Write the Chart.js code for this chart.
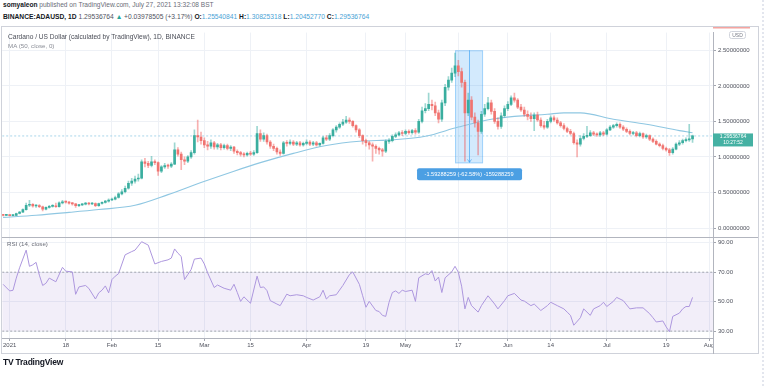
<!DOCTYPE html>
<html>
<head>
<meta charset="utf-8">
<script src="https://cdn.jsdelivr.net/npm/chart.js@4.4.0/dist/chart.umd.min.js"></script>
<style>
  body { margin: 0; width: 768px; height: 386px; background: #fff; position: relative; overflow: hidden;
         font-family: "Liberation Sans", Arial, sans-serif; }
  .txt { position: absolute; white-space: nowrap; line-height: 8px; }
  #h1 { left: 3px; top: 1px; font-size: 6.6px; color: #6a6d78; }
  #h2 { left: 3px; top: 13px; font-size: 6.7px; color: #50535e; }
  #h2 b, #h1 b { color: #131722; }
  .v { color: #4aa3d6; }
  .g { color: #26a69a; }
  #frame { position: absolute; left: 1px; top: 26px; width: 756px; height: 326px; border: 1px solid #cfd2da; }
  #edge { position: absolute; left: 762px; top: 0; width: 0; height: 386px; border-left: 2px dotted #e3e6ee; }
  canvas { position: absolute; left: 2px; top: 27px; }
  #title { left: 8px; top: 33px; font-size: 6.6px; color: #4a4d57; }
  #malab { left: 8px; top: 42px; font-size: 6.2px; color: #8a8d96; }
  #rsilab { left: 7px; top: 240px; font-size: 6.2px; color: #6a6d78; }
  #logo { left: 3px; top: 358px; font-size: 8.5px; font-weight: bold; color: #131722; letter-spacing: -0.2px; }
  #logo i { font-style: normal; display: inline-block; margin-right: 2px; }
</style>
</head>
<body>
<div id="h1" class="txt"><b>somyaleon</b> published on TradingView.com, July 27, 2021 13:32:08 BST</div>
<div id="h2" class="txt"><b>BINANCE:ADAUSD, 1D</b> 1.29536764 <span class="g">&#9650;</span> +0.03978505 (+3.17%) <b>O:</b><span class="v">1.25540841</span> <b>H:</b><span class="v">1.30825318</span> <b>L:</b><span class="v">1.20452770</span> <b>C:</b><span class="v">1.29536764</span></div>
<div id="frame"></div>
<div id="edge"></div>
<canvas id="chart" width="756" height="327"></canvas>
<div id="title" class="txt">Cardano / US Dollar (calculated by TradingView), 1D, BINANCE</div>
<div id="malab" class="txt">MA (50, close, 0)</div>
<div id="rsilab" class="txt">RSI (14, close)</div>
<div id="logo" class="txt"><i>TV</i>TradingView</div>
<script>
// daily candles, first one is Dec 30 2020 (day -2), day 0 = Jan 1 2021
const firstDay = -2;
const opens = [
  0.182, 0.178, 0.181, 0.175, 0.177, 0.204, 0.224, 0.258, 0.320, 0.332,
  0.310, 0.315, 0.300, 0.265, 0.290, 0.305, 0.310, 0.300, 0.355, 0.370,
  0.365, 0.350, 0.340, 0.315, 0.325, 0.335, 0.350, 0.338, 0.345, 0.315,
  0.345, 0.360, 0.378, 0.395, 0.405, 0.430, 0.480, 0.510, 0.560, 0.630,
  0.660, 0.690, 0.700, 0.930, 0.910, 0.880, 0.930, 0.920, 0.800, 0.860,
  0.880, 0.870, 0.900, 1.100, 1.040, 0.960, 0.940, 1.000, 1.060, 1.300,
  1.280, 1.230, 1.170, 1.150, 1.200, 1.140, 1.170, 1.130, 1.160, 1.120,
  1.140, 1.080, 1.060, 1.040, 1.030, 1.050, 1.040, 1.060, 1.330, 1.250,
  1.300, 1.210, 1.150, 1.120, 1.070, 1.050, 1.200, 1.190, 1.210, 1.180,
  1.200, 1.170, 1.190, 1.210, 1.180, 1.200, 1.170, 1.190, 1.270, 1.250,
  1.300, 1.380, 1.420, 1.460, 1.490, 1.520, 1.500, 1.440, 1.380, 1.300,
  1.230, 1.200, 1.170, 1.150, 1.120, 1.100, 1.080, 1.220, 1.230, 1.290,
  1.310, 1.340, 1.330, 1.360, 1.340, 1.370, 1.350, 1.500, 1.650, 1.680,
  1.740, 1.720, 1.620, 1.530, 1.760, 1.980, 2.080, 2.180, 2.280, 2.200,
  2.050, 1.620, 1.800, 1.560, 1.480, 1.360, 1.600, 1.680, 1.760, 1.640,
  1.500, 1.430, 1.580, 1.680, 1.740, 1.830, 1.800, 1.700, 1.660, 1.600,
  1.570, 1.540, 1.590, 1.520, 1.440, 1.420, 1.500, 1.550, 1.520, 1.480,
  1.440, 1.400, 1.360, 1.330, 1.200, 1.180, 1.260, 1.290, 1.300, 1.340,
  1.320, 1.310, 1.340, 1.320, 1.380, 1.420, 1.440, 1.460, 1.420, 1.390,
  1.360, 1.330, 1.340, 1.300, 1.330, 1.280, 1.300, 1.250, 1.220, 1.180,
  1.160, 1.120, 1.100, 1.060, 1.110, 1.180, 1.200, 1.230, 1.240, 1.255
];
const highs = [
  0.190, 0.185, 0.186, 0.185, 0.210, 0.235, 0.270, 0.350, 0.390, 0.345,
  0.330, 0.330, 0.310, 0.300, 0.320, 0.330, 0.350, 0.370, 0.390, 0.380,
  0.375, 0.360, 0.345, 0.335, 0.345, 0.360, 0.360, 0.360, 0.355, 0.350,
  0.370, 0.390, 0.410, 0.420, 0.450, 0.500, 0.540, 0.590, 0.660, 0.700,
  0.730, 0.760, 0.960, 0.980, 0.940, 1.010, 0.960, 0.930, 0.880, 0.910,
  0.900, 0.920, 1.200, 1.130, 1.070, 1.000, 1.020, 1.090, 1.380, 1.520,
  1.350, 1.270, 1.220, 1.240, 1.220, 1.190, 1.190, 1.180, 1.180, 1.160,
  1.150, 1.100, 1.080, 1.060, 1.070, 1.080, 1.090, 1.430, 1.380, 1.340,
  1.320, 1.230, 1.180, 1.140, 1.100, 1.220, 1.230, 1.240, 1.230, 1.220,
  1.220, 1.210, 1.240, 1.230, 1.220, 1.220, 1.200, 1.290, 1.300, 1.330,
  1.400, 1.440, 1.480, 1.530, 1.570, 1.550, 1.510, 1.450, 1.400, 1.310,
  1.250, 1.220, 1.200, 1.170, 1.140, 1.120, 1.240, 1.260, 1.310, 1.340,
  1.360, 1.370, 1.380, 1.380, 1.390, 1.400, 1.530, 1.700, 1.750, 1.900,
  1.800, 1.770, 1.660, 1.800, 2.020, 2.130, 2.250, 2.460, 2.360, 2.250,
  2.080, 1.900, 1.850, 1.620, 1.520, 1.640, 1.740, 1.840, 1.800, 1.680,
  1.550, 1.620, 1.720, 1.780, 1.860, 1.900, 1.820, 1.740, 1.700, 1.650,
  1.620, 1.620, 1.630, 1.550, 1.500, 1.530, 1.580, 1.580, 1.550, 1.500,
  1.470, 1.420, 1.390, 1.350, 1.240, 1.300, 1.330, 1.430, 1.370, 1.360,
  1.340, 1.360, 1.360, 1.400, 1.440, 1.460, 1.480, 1.480, 1.440, 1.410,
  1.380, 1.360, 1.360, 1.350, 1.340, 1.320, 1.310, 1.270, 1.240, 1.200,
  1.180, 1.140, 1.120, 1.130, 1.200, 1.230, 1.250, 1.270, 1.460, 1.308
];
const lows = [
  0.172, 0.174, 0.170, 0.170, 0.175, 0.198, 0.220, 0.250, 0.300, 0.295,
  0.290, 0.285, 0.240, 0.255, 0.280, 0.295, 0.290, 0.295, 0.340, 0.350,
  0.335, 0.320, 0.290, 0.300, 0.315, 0.325, 0.325, 0.330, 0.300, 0.305,
  0.335, 0.350, 0.365, 0.385, 0.395, 0.420, 0.465, 0.495, 0.545, 0.600,
  0.630, 0.660, 0.690, 0.860, 0.850, 0.860, 0.890, 0.740, 0.780, 0.840,
  0.840, 0.850, 0.890, 1.010, 0.820, 0.890, 0.920, 0.980, 1.040, 1.210,
  1.180, 1.130, 1.100, 1.120, 1.110, 1.110, 1.100, 1.110, 1.100, 1.090,
  1.050, 1.030, 1.010, 1.000, 1.010, 1.020, 1.020, 1.050, 1.220, 1.220,
  1.180, 1.120, 1.090, 1.040, 1.020, 1.040, 1.150, 1.170, 1.160, 1.160,
  1.150, 1.150, 1.170, 1.160, 1.160, 1.150, 1.150, 1.180, 1.230, 1.230,
  1.280, 1.350, 1.400, 1.440, 1.470, 1.470, 1.420, 1.350, 1.270, 1.180,
  1.150, 1.110, 0.940, 1.050, 1.040, 1.010, 1.060, 1.190, 1.210, 1.270,
  1.300, 1.300, 1.310, 1.320, 1.320, 1.320, 1.330, 1.480, 1.620, 1.650,
  1.660, 1.580, 1.480, 1.500, 1.720, 1.940, 2.050, 2.130, 2.140, 1.980,
  0.940, 1.580, 1.520, 1.420, 1.030, 1.330, 1.570, 1.660, 1.600, 1.470,
  1.390, 1.400, 1.560, 1.650, 1.720, 1.770, 1.680, 1.640, 1.570, 1.520,
  1.500, 1.370, 1.500, 1.420, 1.390, 1.400, 1.480, 1.500, 1.460, 1.420,
  1.380, 1.340, 1.310, 1.180, 1.000, 1.150, 1.240, 1.270, 1.290, 1.300,
  1.290, 1.290, 1.300, 1.310, 1.370, 1.400, 1.420, 1.400, 1.370, 1.340,
  1.310, 1.310, 1.280, 1.280, 1.260, 1.260, 1.230, 1.200, 1.170, 1.140,
  1.100, 1.080, 1.020, 1.040, 1.100, 1.160, 1.180, 1.210, 1.220, 1.2045
];
const closes = [
  0.178, 0.181, 0.175, 0.177, 0.204, 0.224, 0.258, 0.320, 0.332, 0.310,
  0.315, 0.300, 0.265, 0.290, 0.305, 0.310, 0.300, 0.355, 0.370, 0.365,
  0.350, 0.340, 0.315, 0.325, 0.335, 0.350, 0.338, 0.345, 0.315, 0.345,
  0.360, 0.378, 0.395, 0.405, 0.430, 0.480, 0.510, 0.560, 0.630, 0.660,
  0.690, 0.700, 0.930, 0.910, 0.880, 0.930, 0.920, 0.800, 0.860, 0.880,
  0.870, 0.900, 1.100, 1.040, 0.960, 0.940, 1.000, 1.060, 1.300, 1.280,
  1.230, 1.170, 1.150, 1.200, 1.140, 1.170, 1.130, 1.160, 1.120, 1.140,
  1.080, 1.060, 1.040, 1.030, 1.050, 1.040, 1.060, 1.330, 1.250, 1.300,
  1.210, 1.150, 1.120, 1.070, 1.050, 1.200, 1.190, 1.210, 1.180, 1.200,
  1.170, 1.190, 1.210, 1.180, 1.200, 1.170, 1.190, 1.270, 1.250, 1.300,
  1.380, 1.420, 1.460, 1.490, 1.520, 1.500, 1.440, 1.380, 1.300, 1.230,
  1.200, 1.170, 1.150, 1.120, 1.100, 1.080, 1.220, 1.230, 1.290, 1.310,
  1.340, 1.330, 1.360, 1.340, 1.370, 1.350, 1.500, 1.650, 1.680, 1.740,
  1.720, 1.620, 1.530, 1.760, 1.980, 2.080, 2.180, 2.280, 2.200, 2.050,
  1.620, 1.800, 1.560, 1.480, 1.360, 1.600, 1.680, 1.760, 1.640, 1.500,
  1.430, 1.580, 1.680, 1.740, 1.830, 1.800, 1.700, 1.660, 1.600, 1.570,
  1.540, 1.590, 1.520, 1.440, 1.420, 1.500, 1.550, 1.520, 1.480, 1.440,
  1.400, 1.360, 1.330, 1.200, 1.180, 1.260, 1.290, 1.300, 1.340, 1.320,
  1.310, 1.340, 1.320, 1.380, 1.420, 1.440, 1.460, 1.420, 1.390, 1.360,
  1.330, 1.340, 1.300, 1.330, 1.280, 1.300, 1.250, 1.220, 1.180, 1.160,
  1.120, 1.100, 1.060, 1.110, 1.180, 1.200, 1.230, 1.240, 1.255, 1.29536764
];

// MA(50)
const maDays = [-2, 8, 18, 27, 38, 48, 58, 68, 76, 86, 96, 106, 116, 126, 136, 146, 153, 163, 168, 173, 183, 193, 203, 207];
const maValues = [0.15, 0.18, 0.22, 0.26, 0.32, 0.47, 0.64, 0.80, 0.92, 1.05, 1.16, 1.22, 1.24, 1.29, 1.42, 1.53, 1.57, 1.60, 1.62, 1.62, 1.53, 1.46, 1.37, 1.34];

// RSI(14) turning points
const rsiDays = [
  -2, 0, 1, 2, 3, 5, 6, 7, 8, 9,
  10, 11, 12, 14, 16, 17, 19, 20, 21, 23,
  24, 26, 27, 28, 29, 30, 31, 32, 33, 35,
  37, 38, 40, 42, 44, 46, 48, 49, 50, 51,
  52, 53, 54, 55, 56, 58, 59, 60, 62, 63,
  65, 67, 68, 69, 70, 71, 73, 75, 76, 77,
  78, 79, 81, 82, 84, 85, 87, 89, 90, 92,
  94, 95, 96, 97, 99, 101, 103, 104, 106, 107,
  108, 109, 111, 112, 113, 114, 115, 116, 117, 118,
  119, 120, 122, 123, 124, 126, 127, 128, 129, 130,
  131, 132, 134, 135, 136, 137, 138, 139, 140, 142,
  143, 145, 147, 148, 150, 151, 153, 155, 156, 158,
  159, 161, 163, 164, 166, 168, 169, 170, 171, 173,
  174, 176, 177, 179, 180, 181, 183, 184, 186, 188,
  190, 192, 194, 195, 196, 198, 199, 200, 201, 203,
  204, 205, 206, 207
];
const rsiValues = [
  61.8, 57.3, 57.7, 66, 73, 85, 74, 75, 76.7, 68,
  61, 62.5, 66, 63.5, 73.3, 70.7, 70.2, 55, 60, 61,
  59, 51.8, 56, 57.8, 60.7, 56, 65, 67.3, 69, 81.8,
  84, 85, 90.7, 88.4, 75.6, 77.3, 78.4, 79.6, 85.8, 82.9,
  80.7, 65, 68.4, 71.8, 78.9, 79.6, 75.6, 69.6, 59.6, 61.3,
  59.1, 57.8, 61.8, 56.2, 50.2, 53.3, 48.9, 67.3, 59.6, 60,
  57.5, 50.7, 48.4, 47.3, 55.1, 54, 54.7, 54, 52.9, 51.1,
  53.3, 57.8, 51.8, 54, 54.7, 61, 68.4, 70.2, 61.8, 54,
  46.2, 50.2, 44, 43.3, 40.7, 40, 49.6, 56.2, 57.3, 55.6,
  57.8, 56.9, 57.8, 50.2, 66.2, 68.9, 68.4, 71.1, 64, 66.7,
  56.2, 66.2, 70.2, 74, 70, 60.5, 45.1, 52.9, 47.3, 42.9,
  47.3, 54, 48.4, 45.1, 50.7, 54, 55.6, 51.1, 50.4, 47.3,
  48.4, 44, 47.3, 49.6, 47.3, 45.1, 42.9, 40.7, 34, 39.1,
  45.1, 40.7, 45.1, 47.3, 49.6, 46.7, 50.2, 52.9, 50.7, 45.1,
  45.8, 45.8, 41.8, 39.1, 36.2, 36.9, 32.9, 29.6, 40, 42.2,
  45.1, 46.7, 46.7, 52.9
];
const rsiBand = [30, 70];

// axes
const tickDays = [0, 17, 31, 45, 59, 73, 90, 108, 120, 136, 151, 164, 181, 199, 212];
const tickLabels = ['2021', '18', 'Feb', '15', 'Mar', '15', 'Apr', '19', 'May', '17', 'Jun', '14', 'Jul', '19', 'Aug'];
const priceTicks = [0, 0.5, 1, 1.5, 2, 2.5];
const rsiTicks = [30, 40, 50, 60, 70, 80, 90];
const xRange = [-2.27, 213.2];
const priceRange = [-0.124, 2.749];
const rsiRange = [25.33, 94];

// price-range measure drawn on the chart
const measureDays = [135, 143.5];
const measurePrices = [0.91, 2.5];
const measureText = '-1.59288259 (-62.58%) -159288259';
const lastClose = closes[closes.length - 1];

const upColor = '#3aae9f', downColor = '#f07470';
const upWick = 'rgba(38,166,154,0.45)', downWick = 'rgba(239,83,80,0.45)';
const isUp = i => closes[i] >= opens[i];
const font = { family: '"Liberation Sans", Arial, sans-serif', size: 6 };

const wickData = lows.map((l, i) => ({ x: firstDay + i, y: [l, highs[i]] }));
const bodyData = opens.map((o, i) => ({ x: firstDay + i, y: [o, closes[i]] }));

const paneDecor = {
  id: 'paneDecor',
  beforeDatasetsDraw(chart) {
    const { ctx, scales: { x, y } } = chart;
    const x0 = x.getPixelForValue(measureDays[0]), x1 = x.getPixelForValue(measureDays[1]);
    const yt = y.getPixelForValue(measurePrices[1]), yb = y.getPixelForValue(measurePrices[0]);
    ctx.save();
    ctx.fillStyle = 'rgba(33,150,243,0.2)';
    ctx.fillRect(x0, yt, x1 - x0, yb - yt);
    ctx.strokeStyle = 'rgba(33,150,243,0.3)';
    ctx.lineWidth = 1;
    ctx.strokeRect(x0 + 0.5, yt + 0.5, x1 - x0 - 1, yb - yt - 1);
    const xm = Math.round((x0 + x1) / 2) + 0.5;
    ctx.strokeStyle = 'rgba(33,150,243,0.55)';
    ctx.beginPath(); ctx.moveTo(xm, yt); ctx.lineTo(xm, yb - 1); ctx.stroke();
    ctx.beginPath(); ctx.moveTo(xm - 2, yb - 4); ctx.lineTo(xm, yb - 1); ctx.lineTo(xm + 2, yb - 4); ctx.stroke();
    ctx.restore();
  },
  afterDraw(chart) {
    const { ctx, chartArea, scales: { x, y, rsi } } = chart;
    ctx.save();
    // pane separator and axis edge
    ctx.strokeStyle = '#b2b5be';
    ctx.lineWidth = 1;
    ctx.beginPath();
    ctx.moveTo(0, Math.round(rsi.top) + 0.5); ctx.lineTo(chart.width, Math.round(rsi.top) + 0.5);
    ctx.moveTo(chartArea.right + 0.5, chartArea.bottom); ctx.lineTo(chartArea.right + 0.5, chart.height);
    ctx.stroke();
    // red mark at top of price axis
    ctx.fillStyle = '#f4a4a0';
    ctx.fillRect(chartArea.right, 0, 37, 1.5);
    // USD box
    ctx.strokeStyle = '#d1d4dc';
    ctx.fillStyle = '#fff';
    ctx.beginPath(); ctx.roundRect(chartArea.right + 16.5, 4.5, 16, 7, 2); ctx.fill(); ctx.stroke();
    ctx.fillStyle = '#787b86';
    ctx.font = '5px "Liberation Sans", Arial, sans-serif';
    ctx.textAlign = 'center'; ctx.textBaseline = 'middle';
    ctx.fillText('USD', chartArea.right + 24.5, 8.2);
    // last price label
    const py = y.getPixelForValue(lastClose);
    ctx.fillStyle = '#45b1a3';
    ctx.fillRect(chartArea.right, py - 2.5, 40, 13);
    ctx.fillStyle = '#fff';
    ctx.fillText(lastClose.toFixed(8), chartArea.right + 20, py + 1);
    ctx.fillText('10:27:52', chartArea.right + 20, py + 7);
    // measure label
    const xm = (x.getPixelForValue(measureDays[0]) + x.getPixelForValue(measureDays[1])) / 2;
    const yb = y.getPixelForValue(measurePrices[0]);
    ctx.fillStyle = '#4b9fe3';
    ctx.beginPath(); ctx.roundRect(xm - 52, yb + 5, 105, 12, 2); ctx.fill();
    ctx.fillStyle = '#fff';
    ctx.font = '5.6px "Liberation Sans", Arial, sans-serif';
    ctx.fillText(measureText, xm, yb + 11.2);
    ctx.restore();
  }
};

new Chart(document.getElementById('chart'), {
  type: 'bar',
  data: {
    datasets: [
      {
        label: 'bodies', data: bodyData, yAxisID: 'y', order: 0,
        grouped: false, barThickness: 2, minBarLength: 1,
        backgroundColor: ctx => isUp(ctx.dataIndex) ? upColor : downColor,
      },
      {
        label: 'wicks', data: wickData, yAxisID: 'y', order: 1,
        grouped: false, barThickness: 1,
        backgroundColor: ctx => isUp(ctx.dataIndex) ? upWick : downWick,
      },
      {
        type: 'line', label: 'MA', yAxisID: 'y', order: 2,
        data: maDays.map((d, i) => ({ x: d, y: maValues[i] })),
        borderColor: '#8fc7e2', borderWidth: 1.1, pointRadius: 0, cubicInterpolationMode: 'monotone',
      },
      {
        type: 'line', label: 'last', yAxisID: 'y', order: 3,
        data: [{ x: xRange[0], y: lastClose }, { x: xRange[1], y: lastClose }],
        borderColor: '#a9d6ea', borderWidth: 1, borderDash: [2, 2], pointRadius: 0,
      },
      {
        type: 'line', label: 'RSI', yAxisID: 'rsi', order: 4,
        data: rsiDays.map((d, i) => ({ x: d, y: rsiValues[i] })),
        borderColor: '#ad97de', borderWidth: 1, pointRadius: 0, tension: 0,
      },
      {
        type: 'line', label: 'upper', yAxisID: 'rsi', order: 5,
        data: [{ x: xRange[0], y: rsiBand[1] }, { x: xRange[1], y: rsiBand[1] }],
        borderColor: '#a3a6af', borderWidth: 1, borderDash: [2, 2], pointRadius: 0, fill: false,
      },
      {
        type: 'line', label: 'lower', yAxisID: 'rsi', order: 6,
        data: [{ x: xRange[0], y: rsiBand[0] }, { x: xRange[1], y: rsiBand[0] }],
        borderColor: '#a3a6af', borderWidth: 1, borderDash: [2, 2], pointRadius: 0,
        fill: '-1', backgroundColor: 'rgba(126,87,194,0.1)',
      },
    ],
  },
  options: {
    responsive: false,
    animation: false,
    devicePixelRatio: 1,
    layout: { padding: 0 },
    plugins: { legend: { display: false }, tooltip: { enabled: false } },
    scales: {
      x: {
        type: 'linear', min: xRange[0], max: xRange[1], offset: false,
        afterBuildTicks: s => { s.ticks = tickDays.map(v => ({ value: v })); },
        afterFit: s => { s.height = 16; },
        ticks: { autoSkip: false, maxRotation: 0, padding: 1, font, color: '#50535e',
                 callback: v => tickLabels[tickDays.indexOf(v)] },
        grid: { offset: false, color: '#eef1f6', tickLength: 3, tickColor: '#a3a6af' },
        border: { color: '#b2b5be' },
      },
      y: {
        type: 'linear', position: 'right', stack: 'panes', stackWeight: 208,
        min: priceRange[0], max: priceRange[1],
        afterBuildTicks: s => { s.ticks = priceTicks.map(v => ({ value: v })); },
        afterFit: s => { s.width = 45; },
        ticks: { font, color: '#50535e', padding: 2, callback: v => v.toFixed(8) },
        grid: { color: '#eef1f6', tickLength: 3, tickColor: '#a3a6af' },
        border: { color: '#b2b5be' },
      },
      rsi: {
        type: 'linear', position: 'right', stack: 'panes', stackWeight: 103,
        min: rsiRange[0], max: rsiRange[1],
        afterBuildTicks: s => { s.ticks = rsiTicks.map(v => ({ value: v })); },
        afterFit: s => { s.width = 45; },
        ticks: { font, color: '#50535e', padding: 2, callback: v => v.toFixed(2) },
        grid: { color: '#eef1f6', tickLength: 3, tickColor: '#a3a6af' },
        border: { color: '#b2b5be' },
      },
    },
  },
  plugins: [paneDecor],
});
</script>
</body>
</html>
